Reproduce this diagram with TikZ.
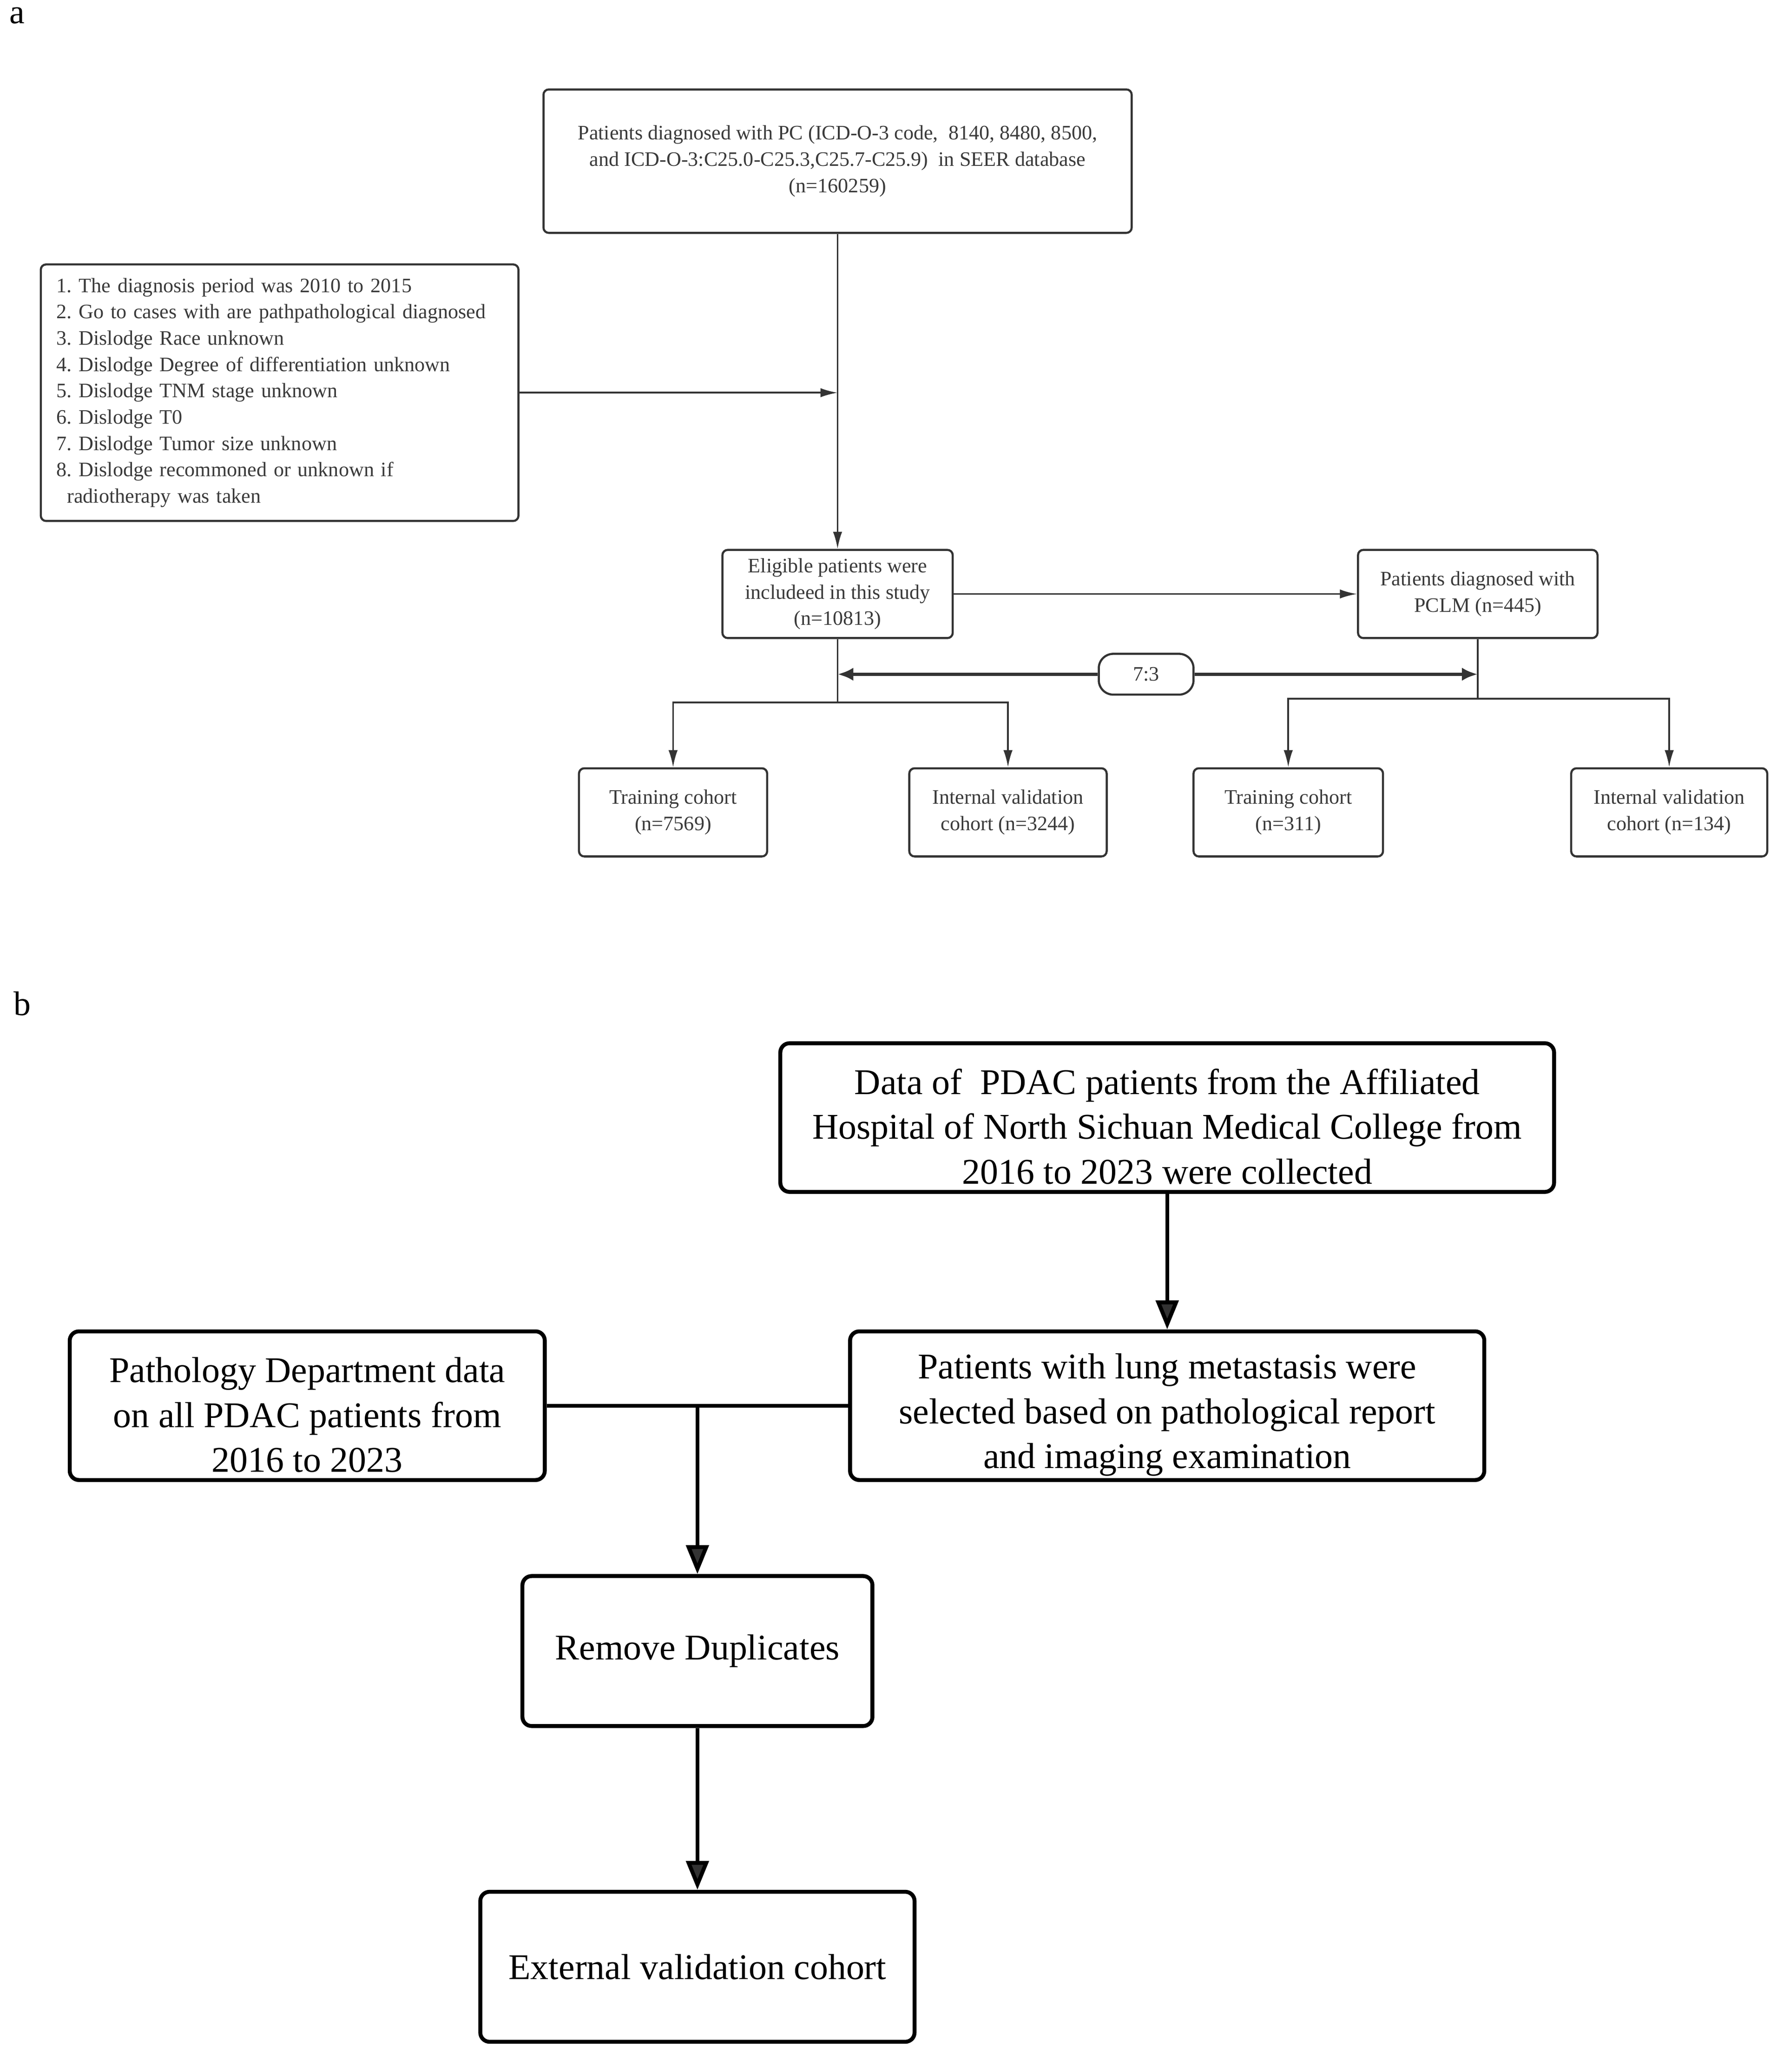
\documentclass[tikz,border=0pt]{standalone}
\usepackage{fontspec}
\setmainfont{Liberation Serif}
\usetikzlibrary{arrows.meta,positioning,calc}
\definecolor{ga}{HTML}{333333}
\definecolor{ta}{HTML}{3A3A3A}
\newcommand{\fa}{\fontsize{15.6}{20}\selectfont\frenchspacing}
\newcommand{\fb}{\fontsize{27.5}{34}\selectfont\frenchspacing}
\newcommand{\topstrut}{\rule{0pt}{33pt}}
\tikzset{
  boxa/.style={draw=ga, line width=1.6pt, rounded corners=4pt, align=center, text=ta, font=\fa, inner sep=0pt},
  conna/.style={draw=ga, line width=1.3pt},
  arra/.style={conna, -{Latex[length=13pt,width=7pt]}},
  arrthick/.style={draw=ga, line width=2.6pt, -{Latex[length=12pt,width=10pt]}},
  boxb/.style={draw=black, line width=3pt, rounded corners=7pt, align=center, text=black, font=\fb, inner sep=0pt},
  connb/.style={draw=black, line width=3pt},
  arrb/.style={connb, -{Triangle[length=22pt,width=17pt,fill=ga]}},
  lbl/.style={font=\fontsize{26}{30}\selectfont, text=black, inner sep=0pt}
}
\begin{document}
\begin{tikzpicture}[x=1pt,y=-1pt]
\useasboundingbox (0,0) rectangle (1360,1575);
% labels
\node[lbl] (la) at (13,12) {a};
\node[lbl] (lb) at (17,763) {b};
% ---------- part a ----------
\node[boxa, minimum width=447pt, minimum height=109pt] (top) at (636.5,122.5)
  {Patients diagnosed with PC (ICD-O-3 code,\ \ 8140, 8480, 8500,\\ and ICD-O-3:C25.0-C25.3,C25.7-C25.9)\ \ in SEER database\\ (n=160259)};
\node[boxa, minimum width=363pt, minimum height=195pt, align=left, text width=339pt, inner xsep=12pt] (crit) at (212.5,298.5)
  {1. The diagnosis period was 2010 to 2015\\
   2. Go to cases with are pathpathological diagnosed\\
   3. Dislodge Race unknown\\
   4. Dislodge Degree of differentiation unknown\\
   5. Dislodge TNM stage unknown\\
   6. Dislodge T0\\
   7. Dislodge Tumor size unknown\\
   8. Dislodge recommoned or unknown if\\
   \hspace*{8pt}radiotherapy was taken};
\node[boxa, minimum width=175pt, minimum height=67pt] (elig) at (636.5,451.5)
  {Eligible patients were\\ includeed in this study\\ (n=10813)};
\node[boxa, minimum width=182pt, minimum height=67pt] (pclm) at (1123,451.5)
  {Patients diagnosed with\\ PCLM (n=445)};
\node[boxa, minimum width=72pt, minimum height=31pt, rounded corners=11pt] (ratio) at (871,512.5) {7:3};
\node[boxa, minimum width=143pt, minimum height=67pt] (t1) at (511.5,617.5) {Training cohort\\ (n=7569)};
\node[boxa, minimum width=150pt, minimum height=67pt] (v1) at (766,617.5) {Internal validation\\ cohort (n=3244)};
\node[boxa, minimum width=144pt, minimum height=67pt] (t2) at (979,617.5) {Training cohort\\ (n=311)};
\node[boxa, minimum width=149pt, minimum height=67pt] (v2) at (1268.5,617.5) {Internal validation\\ cohort (n=134)};
\draw[arra] (top.south) -- (elig.north);
\draw[arra] (crit.east) -- (crit.east -| top.south);
\draw[arra] (elig.east) -- (pclm.west);
\coordinate (ja) at (636.5,534);
\coordinate (jb) at (1123,531);
\draw[conna] (elig.south) -- (ja);
\draw[arra] (ja) -| (t1.north);
\draw[arra] (ja) -| (v1.north);
\draw[conna] (pclm.south) -- (jb);
\draw[arra] (jb) -| (t2.north);
\draw[arra] (jb) -| (v2.north);
\draw[arrthick] (ratio.west) -- (ratio.west -| elig.south);
\draw[arrthick] (ratio.east) -- (ratio.east -| pclm.south);
% ---------- part b ----------
\node[boxb, minimum width=588pt, minimum height=113pt] (data) at (887,849.5)
  {\topstrut Data of\ \ PDAC patients from the Affiliated\\ Hospital of North Sichuan Medical College from\\ 2016 to 2023 were collected};
\node[boxb, minimum width=361pt, minimum height=113pt] (path) at (233.5,1068.5)
  {\topstrut Pathology Department data\\ on all PDAC patients from\\ 2016 to 2023};
\node[boxb, minimum width=482pt, minimum height=113pt] (lung) at (887,1068.5)
  {\topstrut Patients with lung metastasis were\\ selected based on pathological report\\ and imaging examination};
\node[boxb, minimum width=266pt, minimum height=114pt] (rem) at (530,1255) {Remove Duplicates};
\node[boxb, minimum width=330pt, minimum height=114pt] (ext) at (530,1495) {External validation cohort};
\draw[arrb] (data.south) -- (lung.north);
\draw[connb] (path.east) -- (lung.west);
\coordinate (jc) at (530,1068.5);
\draw[arrb] (jc) -- (rem.north);
\draw[arrb] (rem.south) -- (ext.north);
\end{tikzpicture}
\end{document}
